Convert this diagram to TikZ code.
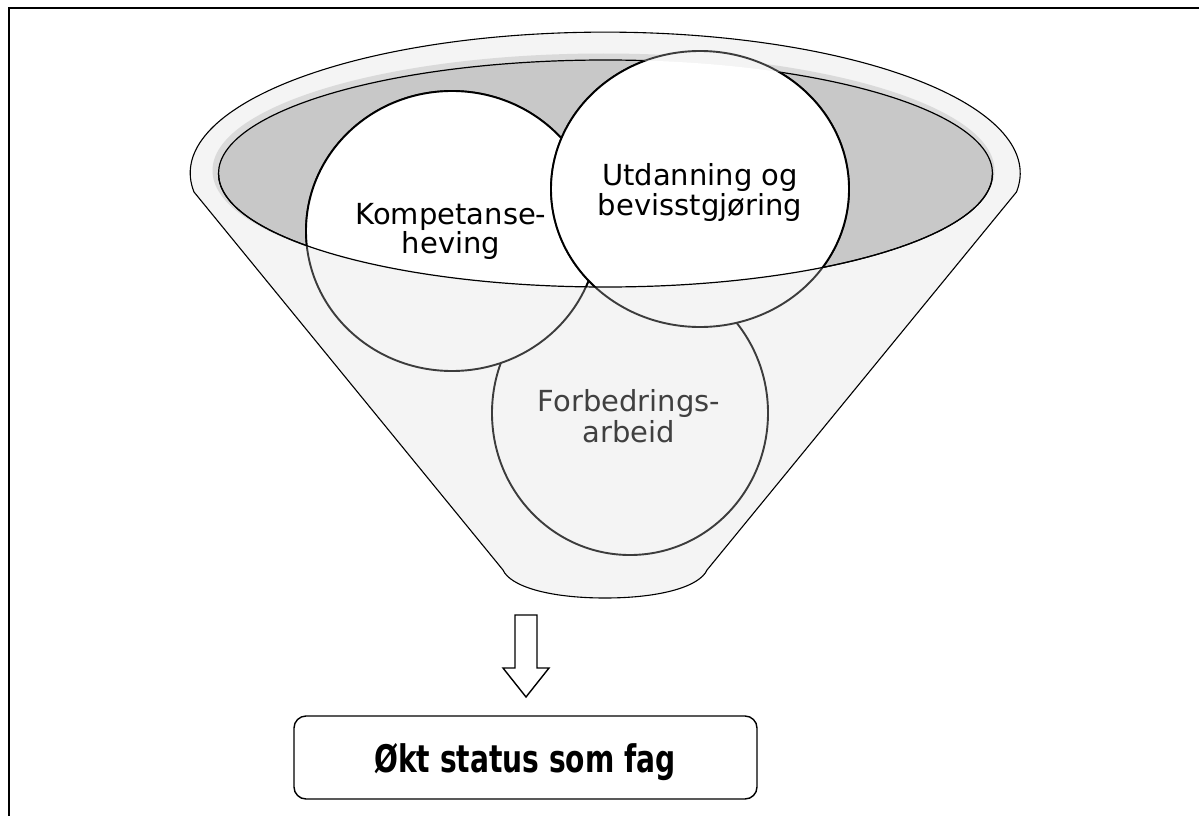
\documentclass[tikz,border=0pt]{standalone}
\usepackage{fontspec}
\setmainfont{DejaVu Sans}
\newfontfamily\titlefont{DejaVu Sans Bold}
\definecolor{rimgray}{HTML}{F4F4F4}
\definecolor{bowlgray}{HTML}{C8C8C8}
\definecolor{glowgray}{HTML}{DADADA}
\definecolor{ringgray}{HTML}{3C3C3C}
\definecolor{softtext}{HTML}{404040}

\tikzset{
  frameline/.style={line width=2pt, black},
  funnelbody/.style={fill=rimgray, draw=black, line width=1.1pt, line join=round},
  bowlfill/.style={fill=bowlgray},
  bowledge/.style={draw=black, line width=1.2pt},
  ringout/.style={fill=rimgray, draw=ringgray, line width=1.9pt},
  ringin/.style={fill=white, draw=black, line width=1.9pt},
  ringlabel/.style={align=center, inner sep=0pt, font=\fontsize{29}{29}\selectfont},
  blockarrow/.style={fill=white, draw=black, line width=1.4pt, line join=miter},
  resultbox/.style={draw=black, fill=white, line width=1.4pt, rounded corners=12pt,
    minimum width=463pt, minimum height=83pt, inner sep=0pt},
  resultlabel/.style={inner sep=0pt, font=\titlefont\fontsize{38}{38}\selectfont}
}

\begin{document}
\begin{tikzpicture}[x=1pt, y=-1pt]
  \useasboundingbox (0,0) rectangle (1199,816);
  \fill[white] (0,0) rectangle (1199,816);

  % page frame (left and top edges)
  \draw[frameline] (9,816) -- (9,8) -- (1199,8);

  % funnel body: elliptic rim, straight sides, rounded bottom
  \path[funnelbody] (194,192)
    arc[start angle=172.3, end angle=367.7, x radius=415, y radius=141]
    -- (707,570)
    .. controls (700,586) and (662,598) .. (605,598)
    .. controls (548,598) and (510,586) .. (503,570)
    -- cycle;

  % bowl opening with a soft glow on its upper edge
  \coordinate (bowl) at (605.5,173.5);
  \fill[glowgray] (603.5,170.5) ellipse[x radius=391, y radius=117];
  \path[bowlfill, bowledge] (bowl) ellipse[x radius=387, y radius=113.5];

  % the three rings, back to front
  \coordinate (fc) at (630,413);
  \coordinate (kc) at (452,231);
  \coordinate (uc) at (700,189);

  \path[ringout] (fc) ellipse[x radius=138, y radius=142];

  \path[ringout] (kc) ellipse[x radius=146, y radius=140];
  \begin{scope}
    \clip (bowl) ellipse[x radius=387, y radius=113.5];
    \path[ringin] (kc) ellipse[x radius=146, y radius=140];
  \end{scope}

  \path[ringout] (uc) ellipse[x radius=149, y radius=138];
  \begin{scope}
    \clip (bowl) ellipse[x radius=387, y radius=113.5];
    \path[ringin] (uc) ellipse[x radius=149, y radius=138];
  \end{scope}

  % lower rim of the bowl stays visible across the rings
  \draw[bowledge] (218.5,173.5)
    arc[start angle=180, end angle=0, x radius=387, y radius=113.5];

  % ring labels
  \node[ringlabel, font=\fontsize{29}{28}\selectfont] (komp) at (451,231)
    {Kompetanse-\\heving};
  \node[ringlabel, font=\fontsize{29}{30}\selectfont] (utd) at (700,192)
    {Utdanning og\\bevisstgjøring};
  \node[ringlabel, font=\fontsize{29}{31}\selectfont, text=softtext] (forb) at (629,416.5)
    {Forbedrings-\\arbeid};

  % block arrow down to the result
  \draw[blockarrow] (515,615) -- (537,615) -- (537,668) -- (549,668)
    -- (526,697) -- (503,668) -- (515,668) -- cycle;

  % result box, with its heading set narrow
  \node[resultbox] (result) at (525.5,757.5) {};
  \node[resultlabel] (title) at (525,762.5) {\scalebox{0.74}[1]{Økt status som fag}};
\end{tikzpicture}
\end{document}
